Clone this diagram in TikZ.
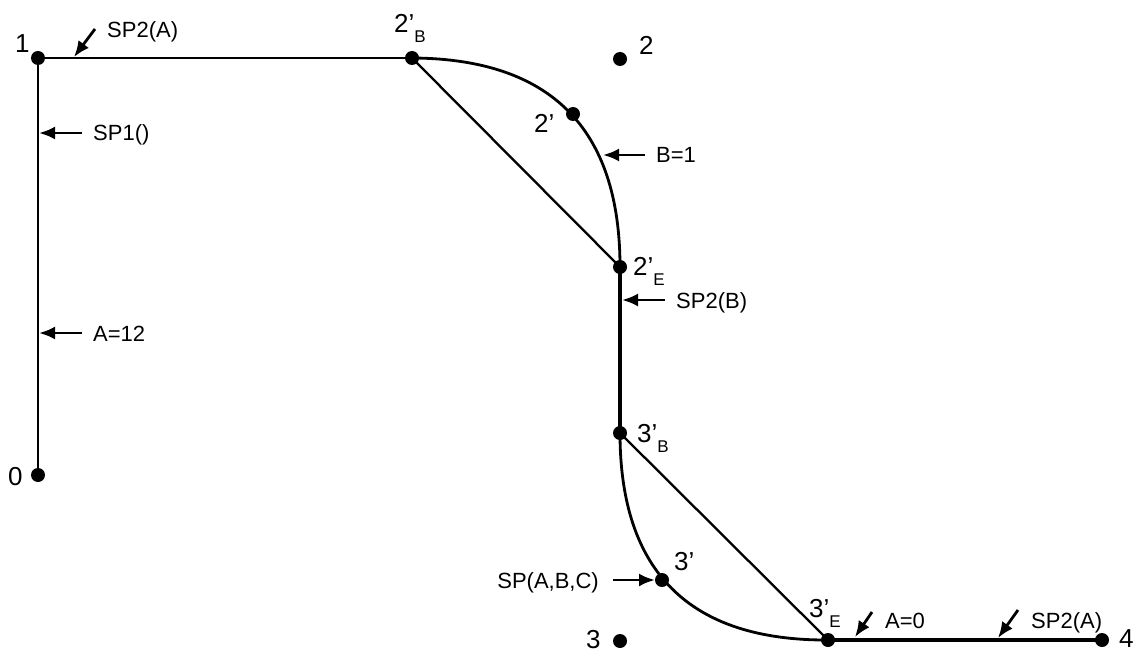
\documentclass[tikz,border=0pt]{standalone}
\usepackage{fontspec}
\setmainfont{Liberation Sans}
\usetikzlibrary{arrows.meta,calc}
\newcommand{\lsub}[1]{\raisebox{-10pt}{\fontsize{17}{17}\selectfont #1}}

\begin{document}
\begin{tikzpicture}[x=1pt,y=-1pt,
  main/.style = {circle, fill, inner sep=0pt, minimum size=14pt},
  num/.style = {font=\fontsize{26}{26}\selectfont, inner sep=0pt, anchor=base west},
  tag/.style = {font=\fontsize{22}{22}\selectfont, inner sep=0pt, anchor=base west},
  pnt/.style = {-{Latex[length=16pt,width=13pt]}, line width=2.8pt}]
\useasboundingbox (0,0) rectangle (1134,652);
\node[main](n1) at (38,58) {}; \node[main](n0) at (38,475) {};
\node[main](n2B) at (412,58) {}; \node[main](n2) at (620,59) {}; \node[main](n2p) at (573,114) {};
\node[main](n2E) at (620,267) {}; \node[main](n3B) at (620,433) {}; \node[main](n3p) at (662,580) {};
\node[main](n3) at (620,641) {}; \node[main](n3E) at (828,640) {}; \node[main](n4) at (1102,640) {};
% path
\draw[line width=2.3pt] (n1.center) -- (n0.center); \draw[line width=2.3pt] (n1.center) -- (n2B.center);
\draw[line width=2.3pt] (n2B.center) -- (n2E.center); \draw[line width=2.3pt] (n3B.center) -- (n3E.center);
\draw[line width=3.3pt] (n2E.center) -- (n3B.center); \draw[line width=3.3pt] (n3E.center) -- (n4.center);
\draw[line width=2.8pt] (n2B.center) .. controls ($(n2B.center)!2/3!(n2.center)$) and ($(n2E.center)!2/3!(n2.center)$) .. (n2E.center);
\draw[line width=2.8pt] (n3B.center) .. controls ($(n3B.center)!2/3!(n3.center)$) and ($(n3E.center)!2/3!(n3.center)$) .. (n3E.center);
% point labels
\node[num](l1) at (15,53) {1}; \node[num](l0) at (8,485) {0};
\node[num](l2B) at (394,33) {2'\lsub{B}}; \node[num](l2) at (639,55) {2};
\node[num](l2p) at (534,133) {2'}; \node[num](l2E) at (633,275) {2'\lsub{E}};
\node[num](l3B) at (637,442) {3'\lsub{B}}; \node[num](l3p) at (674,570) {3'};
\node[num](l3) at (586,648) {3}; \node[num](l3E) at (809,617) {3'\lsub{E}};
\node[num](l4) at (1119,647) {4};
% callouts
\node[tag](t1) at (107,38) {SP2(A)}; \coordinate (e1) at (74,57);
\draw[pnt] ([xshift=-12pt,yshift=9pt]t1.base west) -- (e1);
\node[tag](t2) at (93,141) {SP1()}; \coordinate (e2) at (39,133);
\draw[pnt] ([xshift=-11pt,yshift=8pt]t2.base west) -- (e2);
\node[tag](t3) at (93,341) {A=12}; \coordinate (e3) at (39,333);
\draw[pnt] ([xshift=-11pt,yshift=8pt]t3.base west) -- (e3);
\node[tag](t4) at (656,163) {B=1}; \coordinate (e4) at (603,155);
\draw[pnt] ([xshift=-11pt,yshift=8pt]t4.base west) -- (e4);
\node[tag](t5) at (676,308) {SP2(B)}; \coordinate (e5) at (622,300);
\draw[pnt] ([xshift=-11pt,yshift=8pt]t5.base west) -- (e5);
\node[tag,anchor=base east](t6) at (599,588) {SP(A,B,C)}; \coordinate (e6) at (655,580);
\draw[pnt] ([xshift=14pt,yshift=8pt]t6.base east) -- (e6);
\node[tag](t7) at (885,628) {A=0}; \coordinate (e7) at (855,637);
\draw[pnt] ([xshift=-13pt,yshift=16pt]t7.base west) -- (e7);
\node[tag](t8) at (1031,628) {SP2(A)}; \coordinate (e8) at (998,638);
\draw[pnt] ([xshift=-13pt,yshift=18pt]t8.base west) -- (e8);
\end{tikzpicture}
\end{document}
